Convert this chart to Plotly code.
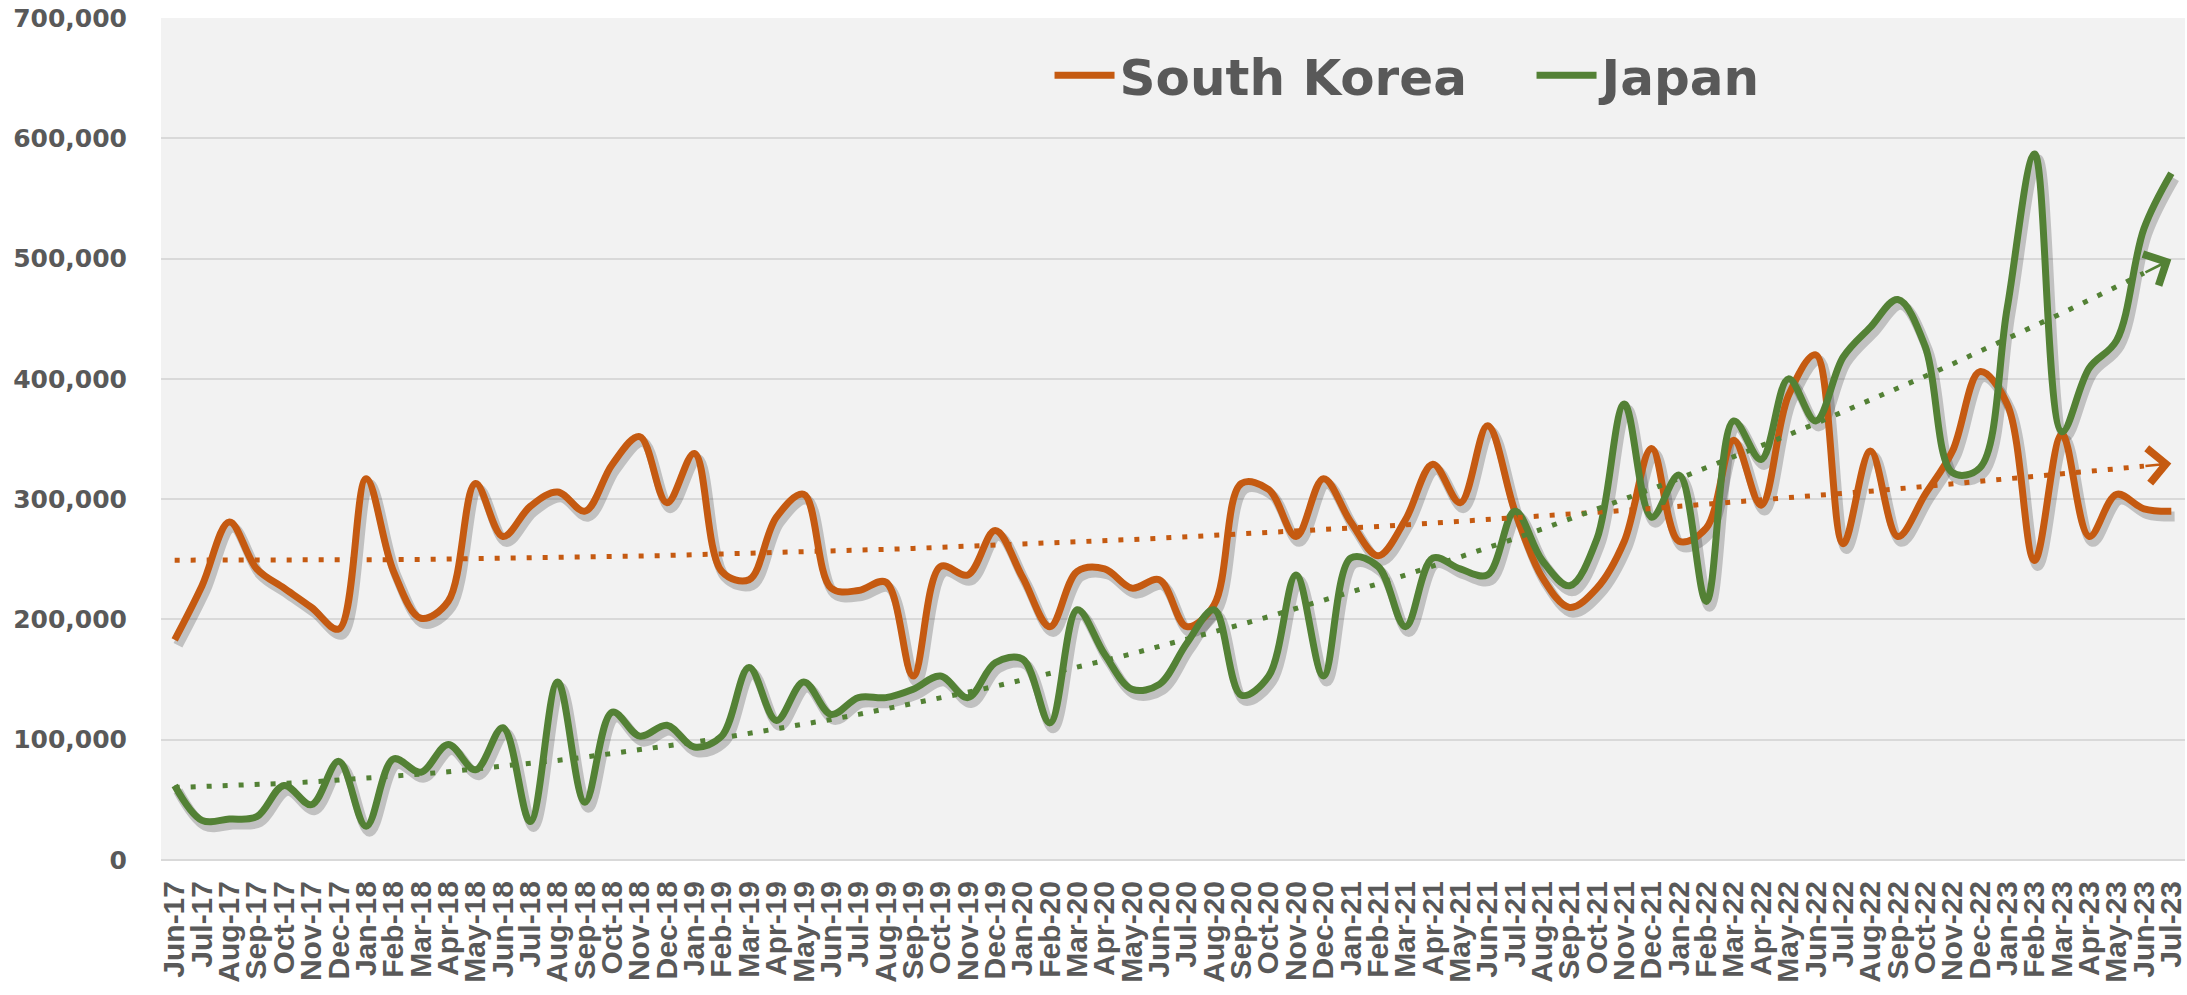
import numpy as np
import plotly.graph_objects as go

months = [
    "Jun-17", "Jul-17", "Aug-17", "Sep-17", "Oct-17", "Nov-17", "Dec-17",
    "Jan-18", "Feb-18", "Mar-18", "Apr-18", "May-18", "Jun-18", "Jul-18", "Aug-18", "Sep-18", "Oct-18", "Nov-18", "Dec-18",
    "Jan-19", "Feb-19", "Mar-19", "Apr-19", "May-19", "Jun-19", "Jul-19", "Aug-19", "Sep-19", "Oct-19", "Nov-19", "Dec-19",
    "Jan-20", "Feb-20", "Mar-20", "Apr-20", "May-20", "Jun-20", "Jul-20", "Aug-20", "Sep-20", "Oct-20", "Nov-20", "Dec-20",
    "Jan-21", "Feb-21", "Mar-21", "Apr-21", "May-21", "Jun-21", "Jul-21", "Aug-21", "Sep-21", "Oct-21", "Nov-21", "Dec-21",
    "Jan-22", "Feb-22", "Mar-22", "Apr-22", "May-22", "Jun-22", "Jul-22", "Aug-22", "Sep-22", "Oct-22", "Nov-22", "Dec-22",
    "Jan-23", "Feb-23", "Mar-23", "Apr-23", "May-23", "Jun-23", "Jul-23",
]

south_korea = [
    183000, 228000, 281000, 242000, 226000, 210000, 192000,
    317000, 240000, 201000, 215000, 313000, 269000, 294000, 306000, 290000, 329000, 352000, 297000,
    338000, 240000, 233000, 285000, 304000, 226000, 224000, 231000, 153000, 244000, 237000, 274000,
    235000, 194000, 240000, 242000, 226000, 233000, 194000, 212000, 313000, 308000, 269000, 317000,
    281000, 253000, 283000, 329000, 297000, 361000, 290000, 235000, 210000, 226000, 265000, 342000,
    265000, 276000, 349000, 295000, 386000, 420000, 263000, 340000, 269000, 304000, 340000, 406000,
    379000, 249000, 354000, 269000, 304000, 292000, 290000,
]

japan = [
    62000, 33000, 34000, 36000, 62000, 46000, 82000,
    28000, 84000, 73000, 96000, 75000, 110000, 32000, 148000, 48000, 123000, 103000, 112000,
    94000, 103000, 160000, 116000, 148000, 121000, 135000, 135000, 142000, 153000, 135000, 164000,
    167000, 114000, 208000, 171000, 142000, 146000, 180000, 208000, 137000, 153000, 237000, 153000,
    251000, 244000, 194000, 251000, 242000, 237000, 290000, 249000, 228000, 267000, 379000, 285000,
    320000, 215000, 365000, 333000, 400000, 365000, 418000, 443000, 466000, 427000, 322000, 326000,
    459000, 587000, 356000, 409000, 432000, 525000, 571000,
]

y_ticks = [0, 100000, 200000, 300000, 400000, 500000, 600000, 700000]

ORANGE = "#C55A11"
GREEN = "#538135"
GRAY_TEXT = "#595959"

W, H = 2187, 995
ML, MR, MT, MB = 161, 0, 18, 135
Y_MAX = 700000

idx = np.arange(len(months))
# polynomial (order 2) trend lines fitted to the series
k_trend = np.polyval(np.polyfit(idx, south_korea, 2), idx)
j_trend = np.polyval(np.polyfit(idx, japan, 2), idx)

fig = go.Figure()

# soft drop shadows (on the base axes, slightly offset ranges)
for vals in (south_korea, japan):
    fig.add_trace(go.Scatter(
        x=months, y=vals, mode="lines",
        line=dict(color="rgba(0,0,0,0.20)", width=10, shape="spline", smoothing=1.0),
        hoverinfo="skip", showlegend=False, xaxis="x", yaxis="y",
    ))

# main series
fig.add_trace(go.Scatter(
    x=months, y=south_korea, mode="lines", name="South Korea",
    line=dict(color=ORANGE, width=7, shape="spline", smoothing=1.0),
    xaxis="x2", yaxis="y2",
))
fig.add_trace(go.Scatter(
    x=months, y=japan, mode="lines", name="Japan",
    line=dict(color=GREEN, width=7, shape="spline", smoothing=1.0),
    xaxis="x2", yaxis="y2",
))

# trend lines
for trend, col in ((k_trend, ORANGE), (j_trend, GREEN)):
    fig.add_trace(go.Scatter(
        x=months[:-1], y=trend[:-1], mode="lines",
        line=dict(color=col, width=5, dash="5px,11px"),
        hoverinfo="skip", showlegend=False, xaxis="x2", yaxis="y2",
    ))

# arrow heads at the end of the trend lines, oriented along the trend
n = len(months)
cat_px = (W - ML - MR) / n
unit_px = (H - MT - MB) / Y_MAX
for trend, col in ((k_trend, ORANGE), (j_trend, GREEN)):
    fig.add_annotation(
        x=n - 1, y=trend[-1], xref="x2", yref="y2",
        ax=-cat_px, ay=(trend[-1] - trend[-2]) * unit_px,
        showarrow=True, arrowhead=4, arrowsize=2.6, arrowwidth=2.6,
        arrowcolor=col, text="", standoff=0,
    )

shift_x = 0.12
shift_y = 4500
tick_font = dict(family="DejaVu Sans", size=25, color=GRAY_TEXT, weight="bold")

fig.update_layout(
    width=W, height=H,
    margin=dict(l=ML, r=MR, t=MT, b=MB, pad=0),
    paper_bgcolor="white",
    plot_bgcolor="#F2F2F2",
    showlegend=True,
    legend=dict(
        orientation="h", x=0.439, xanchor="left", y=0.932, yanchor="middle",
        font=dict(family="DejaVu Sans", size=50, color=GRAY_TEXT, weight="bold"),
        bgcolor="rgba(0,0,0,0)", itemwidth=60, entrywidth=407, tracegroupgap=0,
    ),
    xaxis=dict(
        type="category", categoryorder="array", categoryarray=months,
        range=[-0.5 - shift_x, n - 0.5 - shift_x],
        visible=False, showgrid=False, zeroline=False, fixedrange=True,
    ),
    yaxis=dict(
        range=[0 + shift_y, Y_MAX + shift_y],
        visible=False, showgrid=False, zeroline=False, fixedrange=True,
    ),
    xaxis2=dict(
        type="category", categoryorder="array", categoryarray=months,
        overlaying="x", anchor="y2", side="bottom",
        range=[-0.5, n - 0.5],
        tickmode="array", tickvals=months, ticktext=months,
        tickangle=-90, ticks="", ticklabelstandoff=14,
        tickfont=dict(family="Liberation Sans Narrow, Arial Narrow, Liberation Sans, sans-serif",
                      size=30, color=GRAY_TEXT, weight="bold"),
        showgrid=False, zeroline=False, showline=False, fixedrange=True,
    ),
    yaxis2=dict(
        overlaying="y", anchor="x2", side="left",
        range=[0, Y_MAX], tickmode="array", tickvals=y_ticks,
        tickformat=",", ticks="", ticklabelstandoff=33,
        tickfont=tick_font,
        showgrid=True, gridcolor="#D9D9D9", gridwidth=2,
        zeroline=True, zerolinecolor="#D9D9D9", zerolinewidth=2,
        showline=False, fixedrange=True,
    ),
)

fig.write_html(
    "out.html",
    config={"displayModeBar": False},
    post_script="document.body.style.margin='0';document.body.style.overflow='hidden';",
)
